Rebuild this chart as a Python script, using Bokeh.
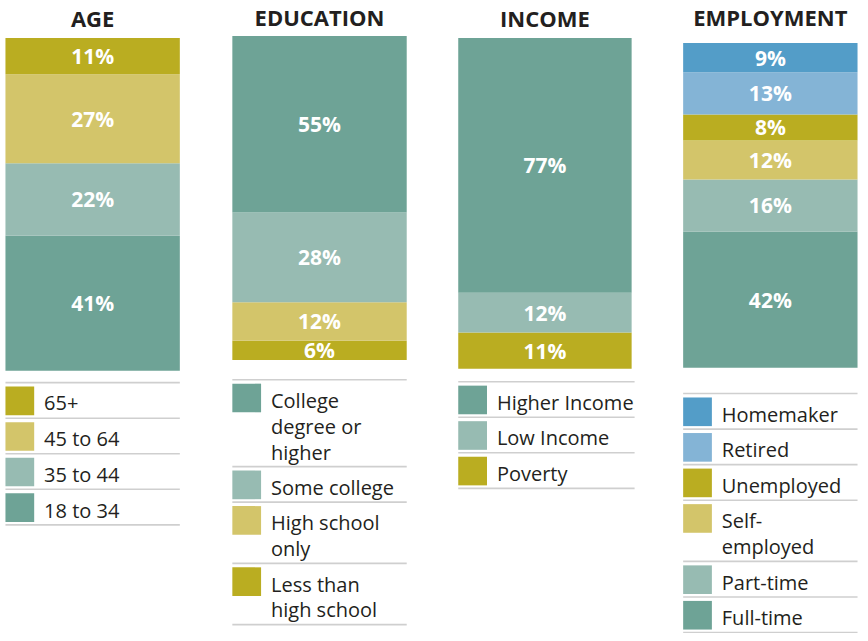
from bokeh.plotting import figure
from bokeh.models import Range1d
from bokeh.core.properties import value
from bokeh.embed import file_html
from bokeh.resources import INLINE

# ---------------- data (stacked bottom -> top) ----------------
age_title = "AGE"
age_labels = ["18 to 34", "35 to 44", "45 to 64", "65+"]
age_values = [41, 22, 27, 11]

edu_title = "EDUCATION"
edu_labels = ["Less than\nhigh school", "High school\nonly", "Some college", "College\ndegree or\nhigher"]
edu_values = [6, 12, 28, 55]

inc_title = "INCOME"
inc_labels = ["Poverty", "Low Income", "Higher Income"]
inc_values = [11, 12, 77]

emp_title = "EMPLOYMENT"
emp_labels = ["Full-time", "Part-time", "Self-\nemployed", "Unemployed", "Retired", "Homemaker"]
emp_values = [42, 16, 12, 8, 13, 9]

# ---------------- styles ----------------
TEAL = "#6ea396"
LTEAL = "#97bbb2"
KHAKI = "#d3c56a"
OLIVE = "#baad21"
BLUE = "#539dc8"
LBLUE = "#84b4d6"
TXT = "#231f20"
RULE = "#cfcfcf"

age_colors = [TEAL, LTEAL, KHAKI, OLIVE]
edu_colors = [OLIVE, KHAKI, LTEAL, TEAL]
inc_colors = [OLIVE, LTEAL, TEAL]
emp_colors = [TEAL, LTEAL, KHAKI, OLIVE, LBLUE, BLUE]

# canvas coordinate frame (reference picture pixels)
FRAME_W, FRAME_H = 868, 641
W, H = 860, 633

# layout: left, right, bar top, bar bottom, title y, legend top, legend right
panels = [
    ("age", age_title, age_labels, age_values, age_colors, 5, 181, 38, 375, 18, 387, 181),
    ("edu", edu_title, edu_labels, edu_values, edu_colors, 234, 410, 36, 364, 17, 384, 410),
    ("inc", inc_title, inc_labels, inc_values, inc_colors, 462, 637, 38, 373, 18, 386, 640),
    ("emp", emp_title, emp_labels, emp_values, emp_colors, 689, 865, 43, 372, 17, 398, 865),
]

p = figure(width=W, height=H, x_range=Range1d(0, FRAME_W),
           y_range=Range1d(FRAME_H, 0),
           x_axis_type=None, y_axis_type=None, toolbar_location=None,
           output_backend="svg", min_border=0, outline_line_color=None,
           background_fill_color="white", border_fill_color="white")
p.xgrid.visible = False
p.ygrid.visible = False

extra = {}
for name, title, labels, vals, cols, left, right, btop, bbot, ty, ltop, lright in panels:
    total = sum(vals)
    k = (bbot - btop) / total
    extra[name] = Range1d(-(FRAME_H - bbot) / k, total + btop / k)
p.extra_y_ranges = extra

for name, title, labels, vals, cols, left, right, btop, bbot, ty, ltop, lright in panels:
    # stacked bar
    bottoms, tops = [], []
    acc = 0
    for v in vals:
        bottoms.append(acc)
        acc += v
        tops.append(acc)
    n = len(vals)
    p.quad(left=[left] * n, right=[right] * n, bottom=bottoms, top=tops,
           fill_color=cols, line_color=None, y_range_name=name)
    mids = [(b + t) / 2 for b, t in zip(bottoms, tops)]
    p.text(x=[(left + right) / 2] * n, y=mids, text=[f"{v}%" for v in vals],
           text_color="white", text_font=value("Open Sans"), text_font_style="bold",
           text_font_size="21px", text_align="center", text_baseline="middle",
           y_range_name=name)
    # title
    p.text(x=[(left + right) / 2], y=[ty], text=[title], text_color=TXT,
           text_font=value("Open Sans"), text_font_style="bold", text_font_size="22px",
           text_align="center", text_baseline="middle")
    # legend (top -> bottom)
    y0 = ltop
    rules = []
    sw_top, sw_bot, sw_cols, tx_y, tx = [], [], [], [], []
    for lab, c in zip(reversed(labels), reversed(cols)):
        nl = lab.count("\n") + 1
        rules.append(y0)
        sw_top.append(y0 + 4)
        sw_bot.append(y0 + 33)
        sw_cols.append(c)
        tx_y.append(y0 + 21 + 13 * (nl - 1))
        tx.append(lab)
        y0 += 10 + 26 * nl
    rules.append(y0)
    m = len(rules)
    p.segment(x0=[left] * m, x1=[lright] * m, y0=rules, y1=rules,
              line_color=RULE, line_width=1.6)
    p.quad(left=[left] * len(sw_top), right=[left + 29] * len(sw_top),
           top=sw_top, bottom=sw_bot, fill_color=sw_cols, line_color=None)
    p.text(x=[left + 39] * len(tx), y=tx_y, text=tx, text_color=TXT,
           text_font=value("Open Sans"), text_font_size="20px",
           text_align="left", text_baseline="middle", text_line_height=0.96)

open("out.html", "w").write(file_html(p, INLINE))
